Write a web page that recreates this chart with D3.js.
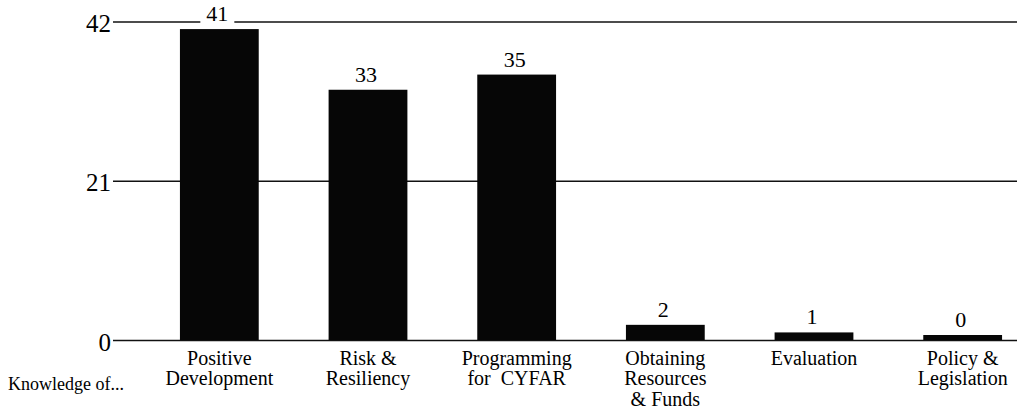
<!DOCTYPE html>
<html>
<head>
<meta charset="utf-8">
<script src="https://cdn.jsdelivr.net/npm/d3@7"></script>
<style>
  html, body { margin: 0; padding: 0; background: #fff; }
  svg { display: block; }
</style>
</head>
<body>
<svg id="chart" width="1017" height="408"></svg>
<script>
// Knowledge areas (each entry is the label split into lines)
const categories = [
  ["Positive", "Development"],
  ["Risk &", "Resiliency"],
  ["Programming", "for  CYFAR"],
  ["Obtaining", "Resources", "& Funds"],
  ["Evaluation"],
  ["Policy &", "Legislation"]
];
const values = [41, 33, 35, 2, 1, 0];
const yTicks = [0, 21, 42];
const rowLabel = "Knowledge of...";

const W = 1017, H = 408;
const SERIF = "'Liberation Serif', 'DejaVu Serif', serif";
const svg = d3.select("#chart");

const axisX = 113;
const y = d3.scaleLinear().domain([0, 42]).range([340, 21.5]);
const keys = categories.map((c, i) => i);
const x = d3.scaleBand()
  .domain(keys)
  .range([145, 1037])
  .paddingInner(0.47)
  .paddingOuter(0.235);

// Value axis with full-width grid lines
const yAxis = d3.axisLeft(y)
  .tickValues(yTicks)
  .tickSize(-(W - axisX))
  .tickPadding(2)
  .tickFormat(d3.format("d"));

const gAxis = svg.append("g")
  .attr("transform", `translate(${axisX},0)`)
  .call(yAxis);
gAxis.select(".domain").remove();
gAxis.selectAll(".tick line")
  .attr("stroke", "#111")
  .attr("stroke-width", 1.3);
gAxis.selectAll(".tick text")
  .style("font-family", SERIF)
  .style("font-size", "25px")
  .attr("fill", "#000")
  .attr("dy", "0.4em");

// Bars
const minH = 5;
svg.append("g")
  .selectAll("rect")
  .data(values)
  .join("rect")
  .attr("x", (d, i) => x(i))
  .attr("width", x.bandwidth())
  .attr("y", d => Math.min(y(d), y(0) - minH))
  .attr("height", d => Math.max(y(0) - y(d), minH))
  .attr("fill", "#060606");

// Value labels above bars, each on a white patch so grid lines break around it
const vl = svg.append("g")
  .selectAll("g")
  .data(values)
  .join("g")
  .attr("transform", (d, i) => {
    const top = Math.min(y(d), y(0) - minH);
    return `translate(${x(i) + x.bandwidth() / 2 - 2},${top - 8})`;
  });
vl.append("rect")
  .attr("x", -17)
  .attr("y", -18)
  .attr("width", 34)
  .attr("height", 22)
  .attr("fill", "#fff");
vl.append("text")
  .attr("text-anchor", "middle")
  .style("font-family", SERIF)
  .style("font-size", "22px")
  .attr("fill", "#000")
  .text(d => d);

// Category labels
const cl = svg.append("g")
  .selectAll("text")
  .data(categories)
  .join("text")
  .attr("text-anchor", "middle")
  .style("font-family", SERIF)
  .style("font-size", "20px")
  .style("white-space", "pre")
  .attr("fill", "#000")
  .attr("transform", (d, i) => `translate(${x(i) + x.bandwidth() / 2},0)`);
cl.selectAll("tspan")
  .data(d => d)
  .join("tspan")
  .attr("x", 0)
  .attr("y", (d, j) => 364.5 + j * 20.5)
  .text(d => d);

// Row caption
svg.append("text")
  .attr("x", 8)
  .attr("y", 390)
  .style("font-family", SERIF)
  .style("font-size", "18px")
  .attr("fill", "#000")
  .text(rowLabel);
</script>
</body>
</html>
